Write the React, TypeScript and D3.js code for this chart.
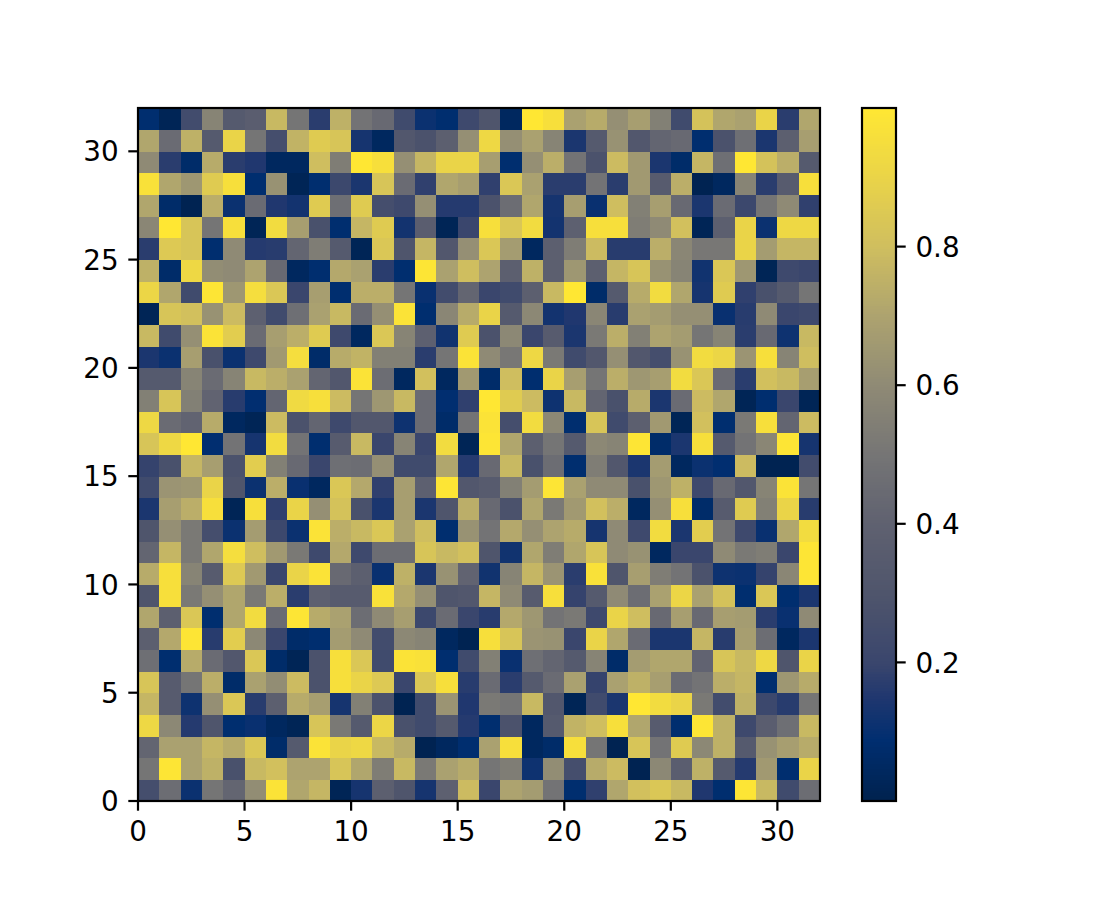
import React from "react";
import * as d3 from "d3";

const row31 = [.085,.02,.24,.57,.34,.37,.78,.5,.17,.75,.49,.44,.23,.11,.085,.22,.3,.045,1,.96,.69,.73,.62,.68,.55,.23,.82,.71,.69,.9,.17,.71];
const row30 = [.71,.45,.75,.34,.9,.5,.25,.76,.86,.83,.13,.045,.32,.28,.38,.62,.92,.62,.69,.57,.14,.34,.63,.32,.42,.44,.085,.28,.47,.14,.38,.68];
const row29 = [.6,.17,.07,.73,.17,.15,.045,.045,.8,.54,1,.96,.62,.77,.9,.9,.68,.085,.62,.74,.49,.28,.79,.66,.14,.07,.77,.47,1,.82,.74,.34];
const row28 = [.97,.71,.65,.86,.96,.085,.63,.02,.085,.21,.14,.83,.45,.18,.71,.68,.18,.84,.69,.17,.17,.49,.17,.66,.35,.74,.01,.045,.57,.17,.35,.96];
const row27 = [.71,.07,.01,.74,.11,.45,.15,.125,.86,.47,.86,.25,.22,.62,.16,.16,.28,.46,.71,.13,.68,.105,.8,.55,.68,.44,.14,.45,.21,.5,.6,.18];
const row26 = [.58,1,.83,.5,.96,.02,.94,.68,.27,.085,.77,.86,.125,.37,.02,.2,.96,.84,.94,.125,.39,.96,.96,.54,.6,.81,.02,.38,.9,.11,.92,.92];
const row25 = [.17,.85,.83,.085,.6,.16,.165,.42,.54,.34,.02,.84,.3,.77,.32,.62,.84,.67,.045,.38,.54,.79,.165,.165,.74,.58,.51,.51,.9,.67,.77,.77];
const row24 = [.75,.07,.92,.61,.6,.7,.44,.045,.085,.72,.69,.17,.085,.99,.69,.8,.7,.38,.75,.38,.65,.38,.77,.83,.63,.57,.12,.84,.65,.02,.22,.2];
const row23 = [.91,.71,.23,.99,.65,.95,.84,.2,.68,.085,.74,.74,.5,.105,.24,.42,.2,.23,.38,.78,1,.07,.34,.73,.94,.71,.13,.86,.18,.27,.34,.5];
const row22 = [.02,.83,.81,.63,.79,.39,.23,.47,.69,.78,.45,.62,.98,.085,.58,.73,.9,.34,.59,.125,.15,.58,.165,.69,.67,.62,.62,.105,.165,.6,.2,.22];
const row21 = [.78,.23,.62,.98,.87,.45,.68,.74,.86,.22,.045,.84,.57,.39,.12,.86,.28,.59,.2,.35,.14,.52,.74,.55,.7,.67,.5,.57,.17,.44,.115,.78];
const row20 = [.14,.11,.68,.27,.11,.22,.66,.95,.07,.73,.76,.55,.55,.17,.5,.98,.6,.51,.92,.52,.23,.32,.62,.32,.25,.63,.94,.91,.64,.96,.57,.8];
const row19 = [.34,.34,.57,.45,.57,.78,.74,.69,.42,.32,.98,.46,.045,.81,.045,.66,.07,.8,.085,.9,.68,.5,.74,.65,.68,.94,.84,.45,.17,.81,.78,.68];
const row18 = [.55,.83,.55,.41,.165,.09,.42,.93,.96,.79,.5,.65,.78,.45,.09,.18,1,.86,.79,.115,.78,.42,.27,.73,.14,.45,.79,.71,.02,.085,.2,.02];
const row17 = [.92,.45,.41,.73,.045,.02,.79,.28,.42,.22,.32,.32,.115,.45,.07,.49,.98,.25,.94,.59,.085,.83,.23,.38,.66,.02,.81,.085,.52,.96,.42,.79];
const row16 = [.83,.92,1,.09,.49,.13,.94,.49,.085,.35,.78,.2,.57,.2,.94,.02,.99,.71,.38,.5,.34,.59,.57,.99,.07,.14,.96,.34,.49,.58,.99,.13];
const row15 = [.19,.27,.77,.68,.28,.87,.55,.44,.2,.47,.46,.62,.23,.23,.71,.16,.44,.78,.27,.46,.085,.54,.32,.14,.67,.045,.11,.09,.79,.01,.01,.24];
const row14 = [.23,.64,.65,.9,.3,.11,.74,.105,.045,.84,.72,.18,.68,.39,.99,.32,.35,.55,.67,.99,.69,.6,.6,.27,.65,.75,.22,.44,.32,.57,.98,.5];
const row13 = [.14,.68,.74,.96,.02,.96,.18,.9,.62,.82,.27,.14,.68,.14,.3,.74,.44,.28,.71,.52,.66,.81,.74,.045,.62,.96,.07,.35,.86,.55,.9,.165];
const row12 = [.3,.62,.52,.25,.11,.67,.21,.11,.98,.74,.78,.84,.69,.8,.085,.63,.49,.72,.62,.7,.73,.13,.6,.22,.94,.14,.87,.49,.22,.105,.71,.94];
const row11 = [.42,.77,.52,.71,.95,.8,.66,.52,.22,.72,.22,.46,.46,.83,.78,.81,.3,.12,.71,.54,.71,.83,.6,.63,.045,.2,.2,.6,.52,.54,.2,.99];
const row10 = [.73,.96,.57,.35,.85,.66,.2,.9,.98,.44,.38,.105,.75,.14,.63,.41,.12,.57,.77,.64,.17,.97,.3,.68,.54,.49,.28,.115,.11,.19,.58,.99];
const row9 = [.3,.96,.52,.62,.71,.52,.74,.17,.39,.35,.35,.97,.72,.62,.3,.32,.77,.6,.35,.96,.19,.34,.6,.46,.69,.91,.69,.82,.085,.84,.085,.14];
const row8 = [.71,.38,.84,.085,.71,.94,.45,.99,.73,.69,.46,.6,.68,.21,.45,.2,.165,.72,.65,.49,.52,.22,.9,.8,.44,.68,.44,.68,.67,.17,.105,.6];
const row7 = [.38,.72,.99,.165,.87,.59,.2,.07,.085,.67,.6,.24,.59,.57,.045,.01,.96,.83,.64,.63,.2,.9,.71,.45,.14,.14,.77,.165,.68,.46,.045,.14];
const row6 = [.47,.085,.73,.45,.32,.84,.07,.02,.28,.96,.84,.23,.98,.97,.085,.23,.55,.105,.47,.42,.34,.57,.07,.67,.71,.71,.41,.83,.78,.92,.3,.9];
const row5 = [.83,.35,.5,.74,.07,.69,.61,.79,.28,.96,.9,.85,.2,.84,.96,.165,.45,.17,.34,.45,.69,.19,.69,.75,.68,.45,.49,.74,.77,.085,.65,.73];
const row4 = [.77,.35,.115,.62,.84,.165,.38,.73,.68,.13,.55,.28,.01,.23,.64,.15,.52,.5,.78,.32,.02,.23,.14,1,.94,.9,.52,.24,.75,.21,.165,.5];
const row3 = [.92,.59,.16,.3,.085,.105,.045,.02,.83,.52,.34,.91,.27,.23,.34,.16,.085,.28,.045,.34,.76,.8,.96,.71,.35,.085,.99,.75,.22,.37,.47,.78];
const row2 = [.42,.69,.69,.77,.73,.84,.07,.34,.98,.9,.92,.78,.73,.01,.045,.085,.69,.96,.045,.07,.96,.5,.01,.83,.49,.86,.59,.75,.34,.63,.68,.73];
const row1 = [.5,.99,.69,.75,.27,.78,.81,.7,.7,.83,.71,.54,.78,.52,.69,.73,.5,.54,.115,.61,.25,.73,.79,.01,.59,.37,.75,.34,.16,.66,.085,.9];
const row0 = [.25,.46,.11,.5,.42,.61,.98,.71,.77,.02,.13,.38,.3,.13,.39,.79,.2,.7,.67,.49,.085,.18,.71,.81,.84,.78,.15,.085,.99,.78,.23,.46];

const rows = [row0,row1,row2,row3,row4,row5,row6,row7,row8,row9,row10,row11,row12,row13,row14,row15,row16,row17,row18,row19,row20,row21,row22,row23,row24,row25,row26,row27,row28,row29,row30,row31];

const axisTicks = [0,5,10,15,20,25,30];
const barTicks = [0.2,0.4,0.6,0.8];
const cmapStops = [0,0.088,0.15,0.2,0.3,0.4,0.5,0.6,0.7,0.8,0.9,1];
const cmapColors = ["#00224e","#002e70","#20376f","#3a466d","#4f556c","#5f6170","#757575","#8f8a75","#ada36f","#cfbe5f","#ead448","#ffe733"];

const color = d3.scaleLinear<string>().domain(cmapStops).range(cmapColors).interpolate(d3.interpolateRgb).clamp(true);

const FONT = "'DejaVu Sans', sans-serif";
const FS = 27.8;
const LW = 2.2;
const TICK = 9.7;
const PAD = 9.7;
const plot = { l: 138, r: 820, t: 108, b: 801 };
const bar = { l: 862, r: 896 };

export default function App() {
  const x = d3.scaleLinear().domain([0,32]).range([plot.l, plot.r]);
  const y = d3.scaleLinear().domain([0,32]).range([plot.b, plot.t]);
  const cy = d3.scaleLinear().domain([0,1]).range([plot.b, plot.t]);
  const levels = d3.range(256).map((i) => i/256);
  return (
    <svg width={1100} height={900} style={{position:"absolute",left:0,top:0,background:"#fff"}} fontFamily={FONT} fontSize={FS}>
      <g shapeRendering="crispEdges">
        {rows.map((row,r)=>row.map((v,c)=>(
          <rect key={`${r}-${c}`} x={x(c)} y={y(r+1)} width={x(c+1)-x(c)+0.5} height={y(r)-y(r+1)+0.5} fill={color(v)}/>
        )))}
      </g>
      <rect x={plot.l} y={plot.t} width={plot.r-plot.l} height={plot.b-plot.t} fill="none" stroke="#000" strokeWidth={LW}/>
      {axisTicks.map((t)=>(
        <g key={`x${t}`}>
          <line x1={x(t)} x2={x(t)} y1={plot.b} y2={plot.b+TICK} stroke="#000" strokeWidth={LW}/>
          <text x={x(t)} y={plot.b+TICK+PAD+20.5} textAnchor="middle">{t}</text>
        </g>
      ))}
      {axisTicks.map((t)=>(
        <g key={`y${t}`}>
          <line x1={plot.l-TICK} x2={plot.l} y1={y(t)} y2={y(t)} stroke="#000" strokeWidth={LW}/>
          <text x={plot.l-TICK-PAD} y={y(t)+10.1} textAnchor="end">{t}</text>
        </g>
      ))}
      <g shapeRendering="crispEdges">
        {levels.map((v)=>(
          <rect key={v} x={bar.l} y={cy(v+1/256)} width={bar.r-bar.l} height={cy(v)-cy(v+1/256)+0.6} fill={color(v+1/512)}/>
        ))}
      </g>
      <rect x={bar.l} y={plot.t} width={bar.r-bar.l} height={plot.b-plot.t} fill="none" stroke="#000" strokeWidth={LW}/>
      {barTicks.map((t)=>(
        <g key={`c${t}`}>
          <line x1={bar.r} x2={bar.r+TICK} y1={cy(t)} y2={cy(t)} stroke="#000" strokeWidth={LW}/>
          <text x={bar.r+TICK+PAD} y={cy(t)+10.1}>{t.toFixed(1)}</text>
        </g>
      ))}
    </svg>
  );
}
